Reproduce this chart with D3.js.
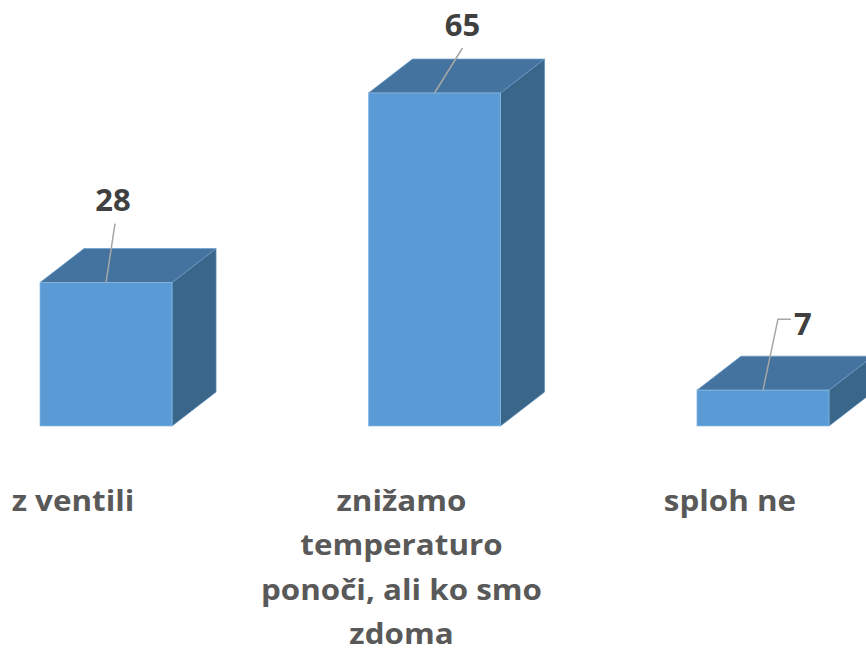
<!DOCTYPE html>
<html><head><meta charset="utf-8">
<script src="https://cdn.jsdelivr.net/npm/d3@7"></script>
<style>html,body{margin:0;padding:0;background:#fff;overflow:hidden}</style>
</head><body>
<svg id="chart" width="866" height="651"></svg>
<script>
const categories = ["z ventili", "znižamo temperaturo ponoči, ali ko smo zdoma", "sploh ne"];
const categoryLines = [["z ventili"], ["znižamo", "temperaturo", "ponoči, ali ko smo", "zdoma"], ["sploh ne"]];
const values = [28, 65, 7];

const W = 866, H = 651;
const baseY = 426, depthX = 44, depthY = 34;
const svg = d3.select("#chart");

const x = d3.scaleBand().domain(categories).range([40, 829]).paddingInner(0.598).paddingOuter(0);
const y = d3.scaleLinear().domain([0, 65]).range([baseY, 93]);
const bw = x.bandwidth();

const colFront = "#5b9bd5", colTop = "#44739f", colSide = "#3a6689";

const g = svg.append("g");
categories.forEach((c, i) => {
  const x0 = x(c), x1 = x0 + bw, yt = y(values[i]), yb = y(0);
  const bar = g.append("g");
  bar.append("path").attr("d", `M${x1},${yt}L${x1+depthX},${yt-depthY}L${x1+depthX},${yb-depthY}L${x1},${yb}Z`)
    .attr("fill", colSide).attr("stroke", "#5f8fbd").attr("stroke-width", 0.7);
  bar.append("path").attr("d", `M${x0},${yt}L${x0+depthX},${yt-depthY}L${x1+depthX},${yt-depthY}L${x1},${yt}Z`)
    .attr("fill", colTop).attr("stroke", "#6f9dca").attr("stroke-width", 0.7);
  bar.append("rect").attr("x", x0).attr("y", yt).attr("width", bw).attr("height", yb - yt)
    .attr("fill", colFront).attr("stroke", "#8bbbe6").attr("stroke-width", 0.7);
});

// data labels with leader lines (layout offsets relative to bar top centre)
const labelDX = [7, 28, 40];
const labelBaseDY = [-72, -57, -55];
const leaderEnd = [[9, -59], [28, -45], [15, -71]];
categories.forEach((c, i) => {
  const cx = x(c) + bw / 2, yt = y(values[i]);
  const [ex, ey] = leaderEnd[i];
  let d = `M${cx},${yt}L${cx + ex},${yt + ey}`;
  if (i === 2) d += `L${cx + ex + 13},${yt + ey}`;
  g.append("path").attr("d", d).attr("fill", "none").attr("stroke", "#a6a6a6").attr("stroke-width", 1.5);
  g.append("text").attr("x", cx + labelDX[i]).attr("y", yt + labelBaseDY[i]).attr("text-anchor", "middle")
    .attr("font-family", "Open Sans").attr("font-weight", "bold").attr("font-size", 31)
    .attr("fill", "#404040").text(values[i]);
});

// category labels
categories.forEach((c, i) => {
  const cx = x(c) + bw / 2 - 33;
  const lg = g.append("g").attr("transform", `translate(${cx},0) scale(1.12,1)`);
  const t = lg.append("text").attr("text-anchor", "middle")
    .attr("font-family", "Open Sans").attr("font-weight", "bold").attr("font-size", 28)
    .attr("fill", "#595959");
  categoryLines[i].forEach((ln, j) => {
    t.append("tspan").attr("x", 0).attr("y", 511 + j * 44.3).text(ln);
  });
});
</script>
</body></html>
